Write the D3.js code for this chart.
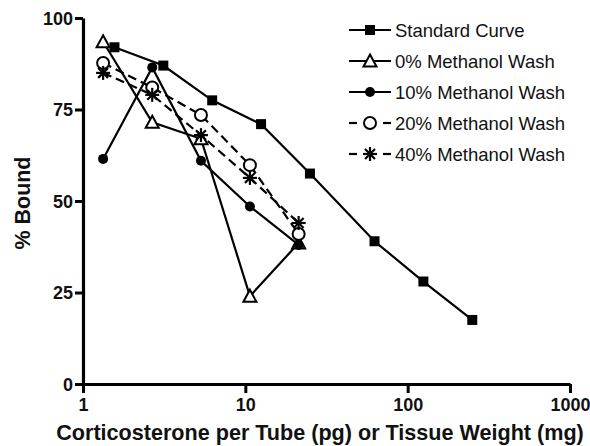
<!DOCTYPE html>
<html><head><meta charset="utf-8">
<script src="https://cdn.jsdelivr.net/npm/d3@7"></script>
<style>body{margin:0;background:#fff}svg{display:block}text{font-family:"Liberation Sans",Arial,sans-serif}</style>
</head><body>
<svg id="c" width="590" height="446"></svg>
<script>
const xStd = [1.5625, 3.125, 6.25, 12.5, 25, 62.5, 125, 250];
const yStd = [92, 87, 77.5, 71, 57.5, 39, 28, 17.5];
const xWash = [1.33, 2.67, 5.33, 10.67, 21.3];
const y0 = [93.5, 71.5, 67, 24, 38.5];
const y10 = [61.5, 86.5, 61, 48.5, 38];
const y20 = [87.7, 81, 73.5, 59.8, 41];
const y40 = [85, 79, 68, 56.3, 44];
const xTicks = [1, 10, 100, 1000];
const yTicks = [0, 25, 50, 75, 100];
const seriesNames = ["Standard Curve", "0% Methanol Wash", "10% Methanol Wash", "20% Methanol Wash", "40% Methanol Wash"];

const series = [
  {name: seriesNames[0], xs: xStd, ys: yStd, marker: "square", dashed: false},
  {name: seriesNames[1], xs: xWash, ys: y0, marker: "triangle", dashed: false},
  {name: seriesNames[2], xs: xWash, ys: y10, marker: "dot", dashed: false},
  {name: seriesNames[3], xs: xWash, ys: y20, marker: "ocircle", dashed: true},
  {name: seriesNames[4], xs: xWash, ys: y40, marker: "star", dashed: true}
];

const svg = d3.select("#c");
const x = d3.scaleLog().domain([1, 1000]).range([83, 570]);
const y = d3.scaleLinear().domain([0, 100]).range([384, 18]);

function drawMarker(g, type, cx, cy) {
  if (type === "square") {
    g.append("rect").attr("x", cx - 5).attr("y", cy - 5).attr("width", 10).attr("height", 10).attr("fill", "#000");
  } else if (type === "triangle") {
    const s = 6.5;
    g.append("path").attr("d", `M${cx},${cy - s}L${cx + s},${cy + s * 0.85}L${cx - s},${cy + s * 0.85}Z`)
      .attr("fill", "#fff").attr("stroke", "#000").attr("stroke-width", 2);
  } else if (type === "dot") {
    g.append("circle").attr("cx", cx).attr("cy", cy).attr("r", 5).attr("fill", "#000");
  } else if (type === "ocircle") {
    g.append("circle").attr("cx", cx).attr("cy", cy).attr("r", 6).attr("fill", "#fff").attr("stroke", "#000").attr("stroke-width", 2);
  } else if (type === "star") {
    const r = 7;
    for (let i = 0; i < 4; i++) {
      const a = i * Math.PI / 4;
      g.append("line").attr("x1", cx - r * Math.cos(a)).attr("y1", cy - r * Math.sin(a))
        .attr("x2", cx + r * Math.cos(a)).attr("y2", cy + r * Math.sin(a))
        .attr("stroke", "#000").attr("stroke-width", 2.2);
    }
  }
}

function fitText(sel, width) {
  const w = sel.node().getComputedTextLength();
  const fs = parseFloat(sel.style("font-size"));
  sel.style("font-size", (fs * width / w) + "px");
}

// axes
const xAxis = svg.append("g").attr("transform", "translate(0,384)")
  .call(d3.axisBottom(x).tickValues(xTicks).tickFormat(d3.format("d")).tickSize(9).tickSizeOuter(0).tickPadding(5));
const yAxis = svg.append("g").attr("transform", "translate(83,0)")
  .call(d3.axisLeft(y).tickValues(yTicks).tickSize(8).tickSizeOuter(0).tickPadding(2));
[xAxis, yAxis].forEach(a => {
  a.select(".domain").attr("stroke", "#000").attr("stroke-width", 3.2);
  a.selectAll(".tick line").attr("stroke", "#000").attr("stroke-width", 3);
  a.selectAll(".tick text").attr("fill", "#111").style("font-size", "18px").style("font-weight", "bold")
    .style("font-family", "'Liberation Sans', Arial, sans-serif");
});
yAxis.selectAll(".tick text").attr("dy", "0.36em");

// lines
const line = d3.line().x(d => x(d[0])).y(d => y(d[1]));
series.forEach(s => {
  const pts = s.xs.map((v, i) => [v, s.ys[i]]);
  svg.append("path").attr("d", line(pts)).attr("fill", "none").attr("stroke", "#000")
    .attr("stroke-width", 2.2).attr("stroke-dasharray", s.dashed ? "9,5" : null);
});
// markers: triangles underneath, then the rest
[1, 0, 3, 2, 4].forEach(k => {
  const s = series[k];
  const g = svg.append("g");
  s.xs.forEach((v, i) => drawMarker(g, s.marker, x(v), y(s.ys[i])));
});

// legend
const lg = svg.append("g");
series.forEach((s, i) => {
  const ly = 30 + i * 31;
  if (s.dashed) {
    lg.append("line").attr("x1", 349).attr("x2", 357).attr("y1", ly).attr("y2", ly).attr("stroke", "#000").attr("stroke-width", 2.2);
    lg.append("line").attr("x1", 383).attr("x2", 391).attr("y1", ly).attr("y2", ly).attr("stroke", "#000").attr("stroke-width", 2.2);
  } else {
    lg.append("line").attr("x1", 349).attr("x2", 391).attr("y1", ly).attr("y2", ly).attr("stroke", "#000").attr("stroke-width", 2.2);
  }
  drawMarker(lg, s.marker, 370, ly);
  lg.append("text").attr("x", 395).attr("y", ly + 6.5).style("font-size", "18.5px").attr("fill", "#111").text(s.name);
});

// titles
const xt = svg.append("text").attr("x", 320).attr("y", 440).attr("text-anchor", "middle")
  .style("font-size", "21px").style("font-weight", "bold").attr("fill", "#111")
  .text("Corticosterone per Tube (pg) or Tissue Weight (mg)");
fitText(xt, 528);
const yt = svg.append("text").attr("transform", "translate(30,203) rotate(-90)").attr("text-anchor", "middle")
  .style("font-size", "21px").style("font-weight", "bold").attr("fill", "#111")
  .text("% Bound");
fitText(yt, 93);
</script>
</body></html>
